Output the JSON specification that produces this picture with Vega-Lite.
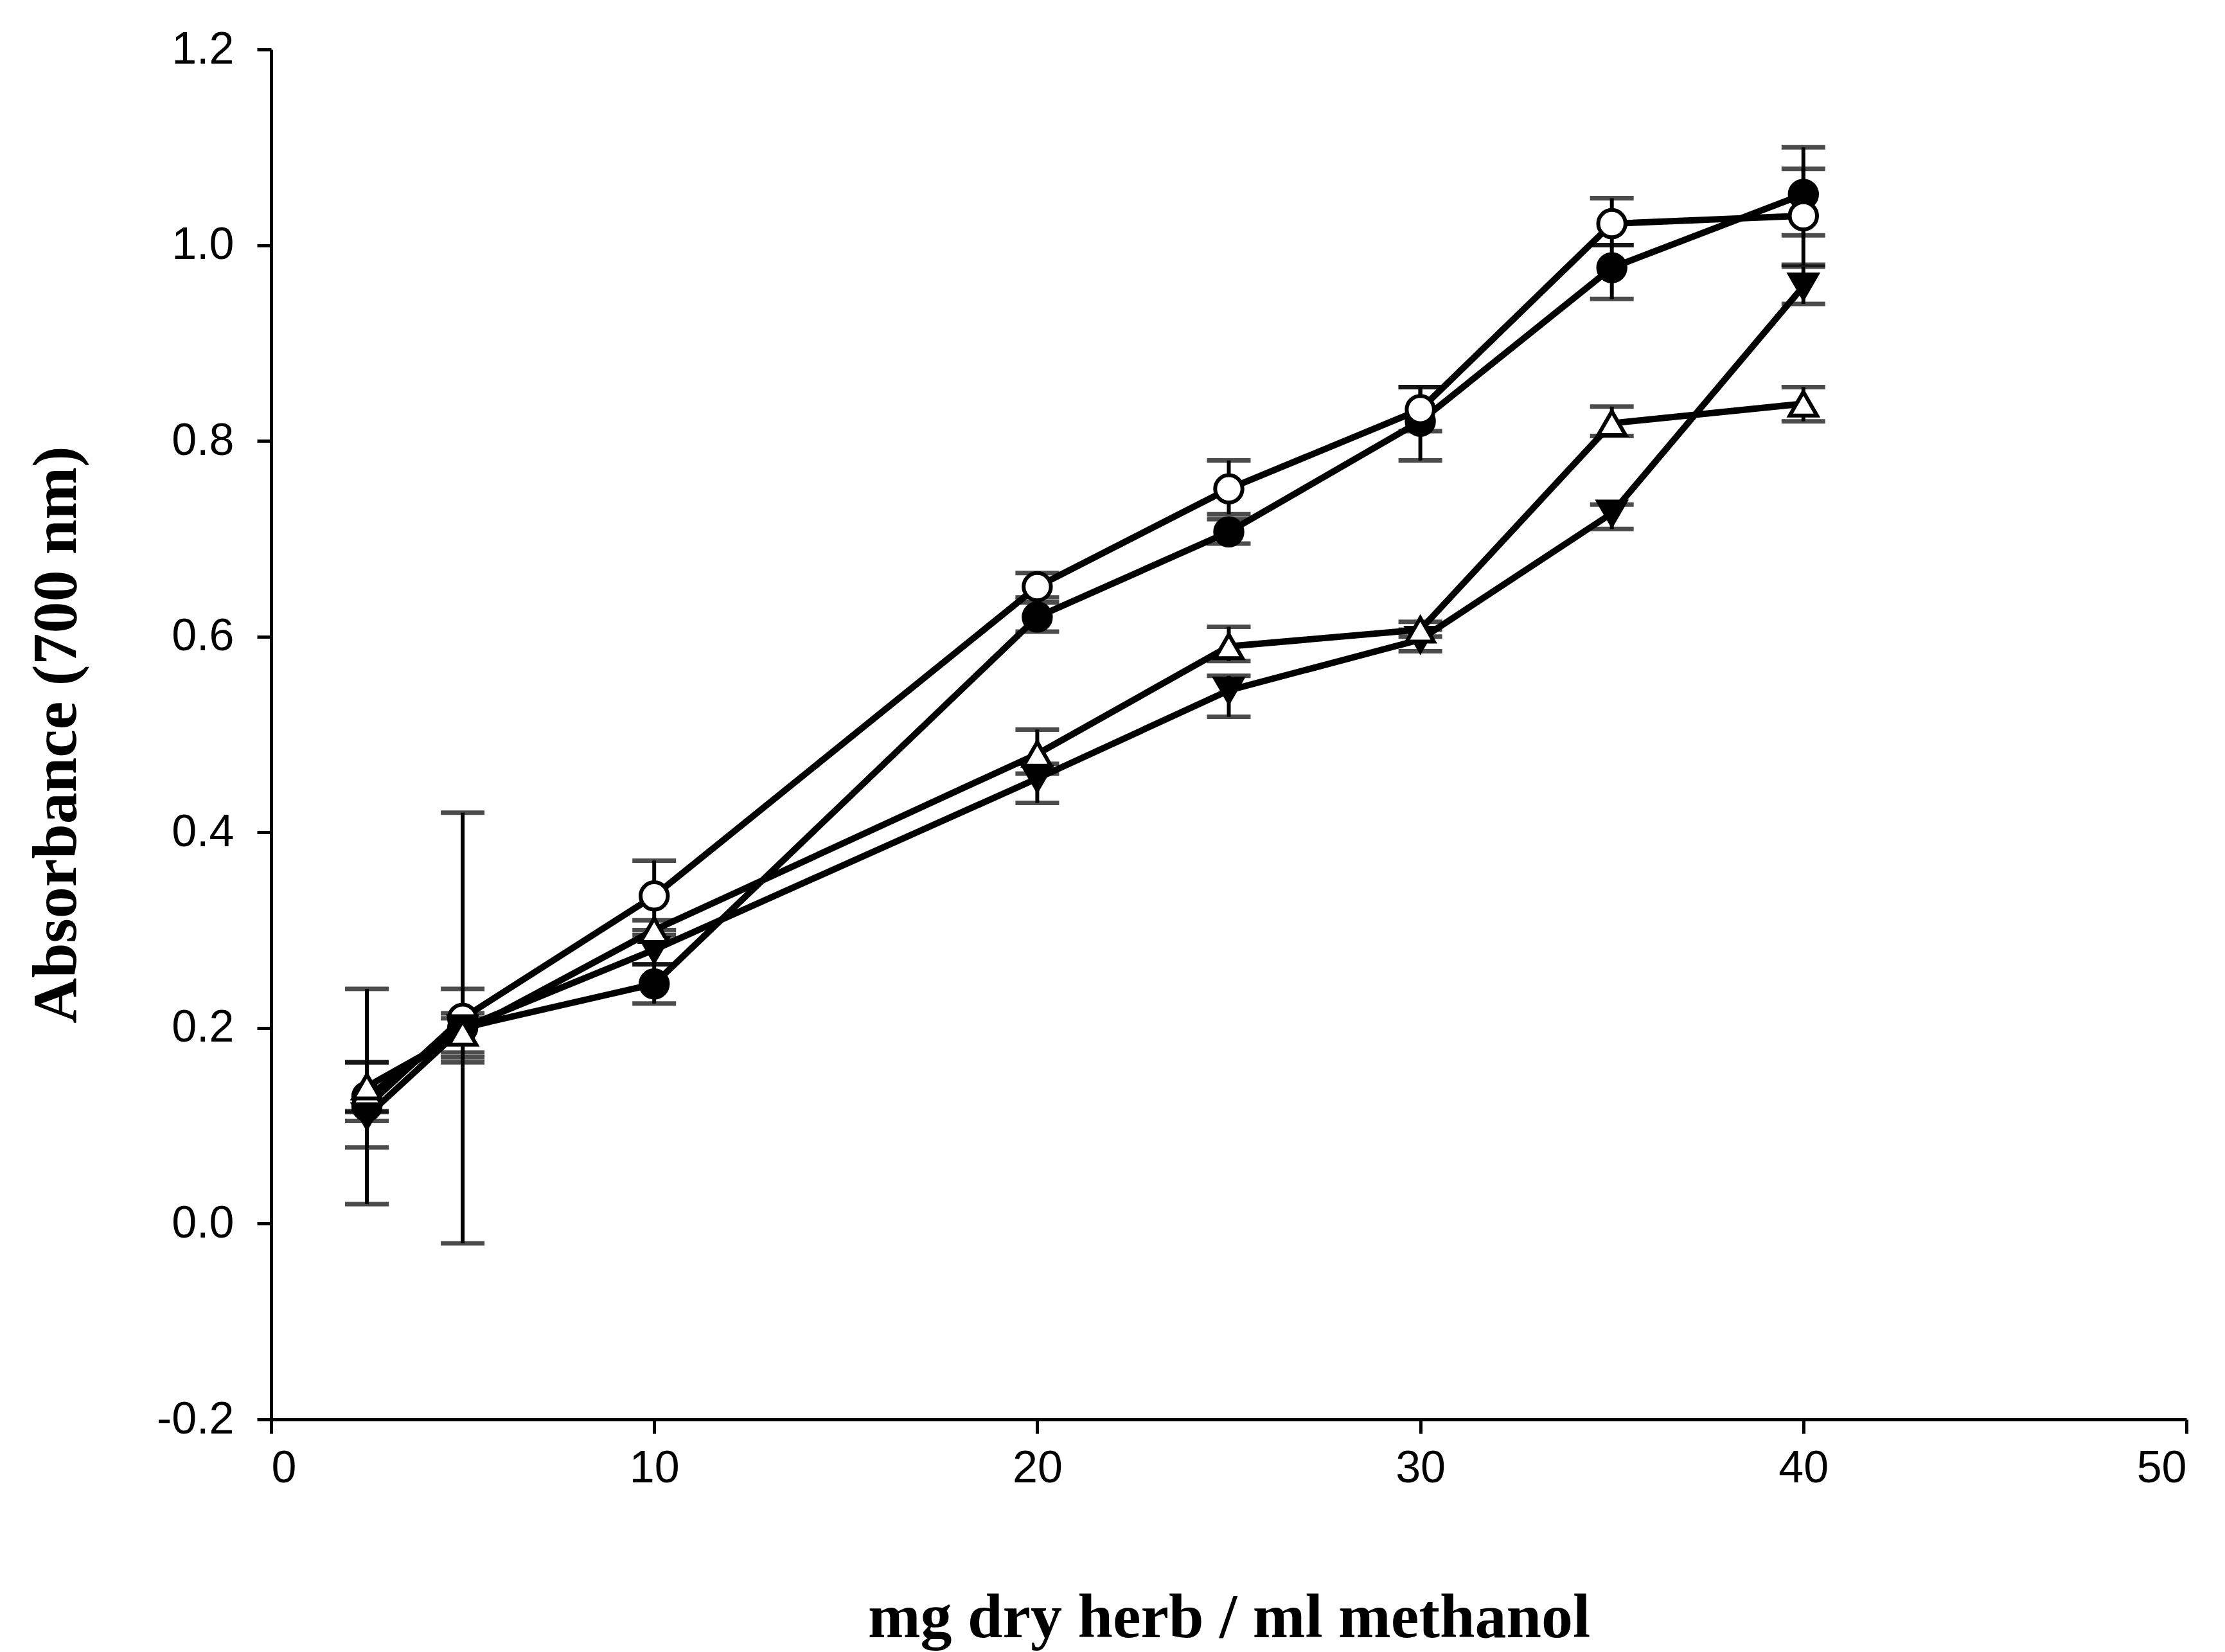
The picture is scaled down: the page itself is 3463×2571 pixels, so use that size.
{
  "$schema": "https://vega.github.io/schema/vega-lite/v6.json",
  "autosize": "none",
  "width": 2981,
  "height": 2132,
  "padding": {"left": 422, "top": 77, "right": 60, "bottom": 362},
  "background": "white",
  "config": {"view": {"stroke": null}},
  "data": {
    "values": [
      {"series": "A", "x": 2.5, "y": 0.13, "lo": 0.02, "hi": 0.24},
      {"series": "A", "x": 5, "y": 0.2, "lo": -0.02, "hi": 0.42},
      {"series": "A", "x": 10, "y": 0.245, "lo": 0.225, "hi": 0.265},
      {"series": "A", "x": 20, "y": 0.62, "lo": 0.605, "hi": 0.635},
      {"series": "A", "x": 25, "y": 0.707, "lo": 0.695, "hi": 0.72},
      {"series": "A", "x": 30, "y": 0.82, "lo": 0.78, "hi": 0.855},
      {"series": "A", "x": 35, "y": 0.977, "lo": 0.945, "hi": 1.0},
      {"series": "A", "x": 40, "y": 1.052, "lo": 1.01, "hi": 1.1},
      {"series": "B", "x": 2.5, "y": 0.12, "lo": 0.078, "hi": 0.165},
      {"series": "B", "x": 5, "y": 0.21, "lo": 0.175, "hi": 0.24},
      {"series": "B", "x": 10, "y": 0.335, "lo": 0.3, "hi": 0.371},
      {"series": "B", "x": 20, "y": 0.651, "lo": 0.64, "hi": 0.665},
      {"series": "B", "x": 25, "y": 0.751, "lo": 0.725, "hi": 0.78},
      {"series": "B", "x": 30, "y": 0.832, "lo": 0.81, "hi": 0.855},
      {"series": "B", "x": 35, "y": 1.022, "lo": 1.0, "hi": 1.048},
      {"series": "B", "x": 40, "y": 1.03, "lo": 0.98, "hi": 1.078},
      {"series": "C", "x": 2.5, "y": 0.11, "lo": 0.105, "hi": 0.114},
      {"series": "C", "x": 5, "y": 0.2, "lo": 0.165, "hi": 0.21},
      {"series": "C", "x": 10, "y": 0.28, "lo": 0.265, "hi": 0.295},
      {"series": "C", "x": 20, "y": 0.455, "lo": 0.43, "hi": 0.47},
      {"series": "C", "x": 25, "y": 0.545, "lo": 0.518, "hi": 0.56},
      {"series": "C", "x": 30, "y": 0.597, "lo": 0.585, "hi": 0.607},
      {"series": "C", "x": 35, "y": 0.726, "lo": 0.71, "hi": 0.735},
      {"series": "C", "x": 40, "y": 0.958, "lo": 0.94, "hi": 0.978},
      {"series": "D", "x": 2.5, "y": 0.14, "lo": 0.115, "hi": 0.165},
      {"series": "D", "x": 5, "y": 0.195, "lo": 0.17, "hi": 0.215},
      {"series": "D", "x": 10, "y": 0.3, "lo": 0.29, "hi": 0.31},
      {"series": "D", "x": 20, "y": 0.48, "lo": 0.46, "hi": 0.505},
      {"series": "D", "x": 25, "y": 0.59, "lo": 0.575, "hi": 0.61},
      {"series": "D", "x": 30, "y": 0.607, "lo": 0.6, "hi": 0.615},
      {"series": "D", "x": 35, "y": 0.818, "lo": 0.805, "hi": 0.835},
      {"series": "D", "x": 40, "y": 0.838, "lo": 0.82, "hi": 0.855}
    ]
  },
  "encoding": {
    "x": {
      "field": "x", "type": "quantitative",
      "scale": {"domain": [0, 50], "nice": false, "zero": false},
      "axis": {
        "values": [0, 10, 20, 30, 40, 50],
        "grid": false, "domainColor": "black", "domainWidth": 5,
        "tickColor": "black", "tickWidth": 5, "tickSize": 22,
        "labelFont": "Liberation Sans", "labelFontSize": 70, "labelColor": "black",
        "labelPadding": 20,
        "title": "mg dry herb / ml methanol",
        "titleFont": "Liberation Serif", "titleFontWeight": "bold", "titleFontSize": 98,
        "titleColor": "black", "titleBaseline": "middle", "titleY": 309
      }
    },
    "y": {
      "field": "y", "type": "quantitative",
      "scale": {"domain": [-0.2, 1.2], "nice": false, "zero": false},
      "axis": {
        "values": [-0.2, 0, 0.2, 0.4, 0.6, 0.8, 1.0, 1.2],
        "format": ".1f",
        "labelExpr": "replace(datum.label, '\u2212', '-')",
        "grid": false, "domainColor": "black", "domainWidth": 5,
        "tickColor": "black", "tickWidth": 5, "tickSize": 22,
        "labelFont": "Liberation Sans", "labelFontSize": 70, "labelColor": "black",
        "labelPadding": 36,
        "title": "Absorbance (700 nm)",
        "titleFont": "Liberation Serif", "titleFontWeight": "bold", "titleFontSize": 98,
        "titleColor": "black", "titleBaseline": "middle", "titleX": -334
      }
    }
  },
  "layer": [
    {
      "mark": {"type": "line", "color": "black", "strokeWidth": 10},
      "encoding": {"detail": {"field": "series"}}
    },
    {
      "mark": {"type": "rule", "color": "black", "strokeWidth": 6},
      "encoding": {"y": {"field": "lo", "type": "quantitative"}, "y2": {"field": "hi"}}
    },
    {
      "mark": {"type": "tick", "orient": "horizontal", "color": "black", "size": 68, "thickness": 7},
      "encoding": {"y": {"field": "lo", "type": "quantitative"}}
    },
    {
      "mark": {"type": "tick", "orient": "horizontal", "color": "black", "size": 68, "thickness": 7},
      "encoding": {"y": {"field": "hi", "type": "quantitative"}}
    },
    {
      "mark": {"type": "point", "filled": false, "stroke": "black", "strokeWidth": 6, "opacity": 1, "size": 1800},
      "encoding": {
        "shape": {"field": "series", "type": "nominal", "legend": null,
          "scale": {"domain": ["A", "B", "C", "D"], "range": ["circle", "circle", "triangle-down", "triangle-up"]}},
        "fill": {"field": "series", "type": "nominal", "legend": null,
          "scale": {"domain": ["A", "B", "C", "D"], "range": ["black", "white", "black", "white"]}}
      }
    }
  ]
}
